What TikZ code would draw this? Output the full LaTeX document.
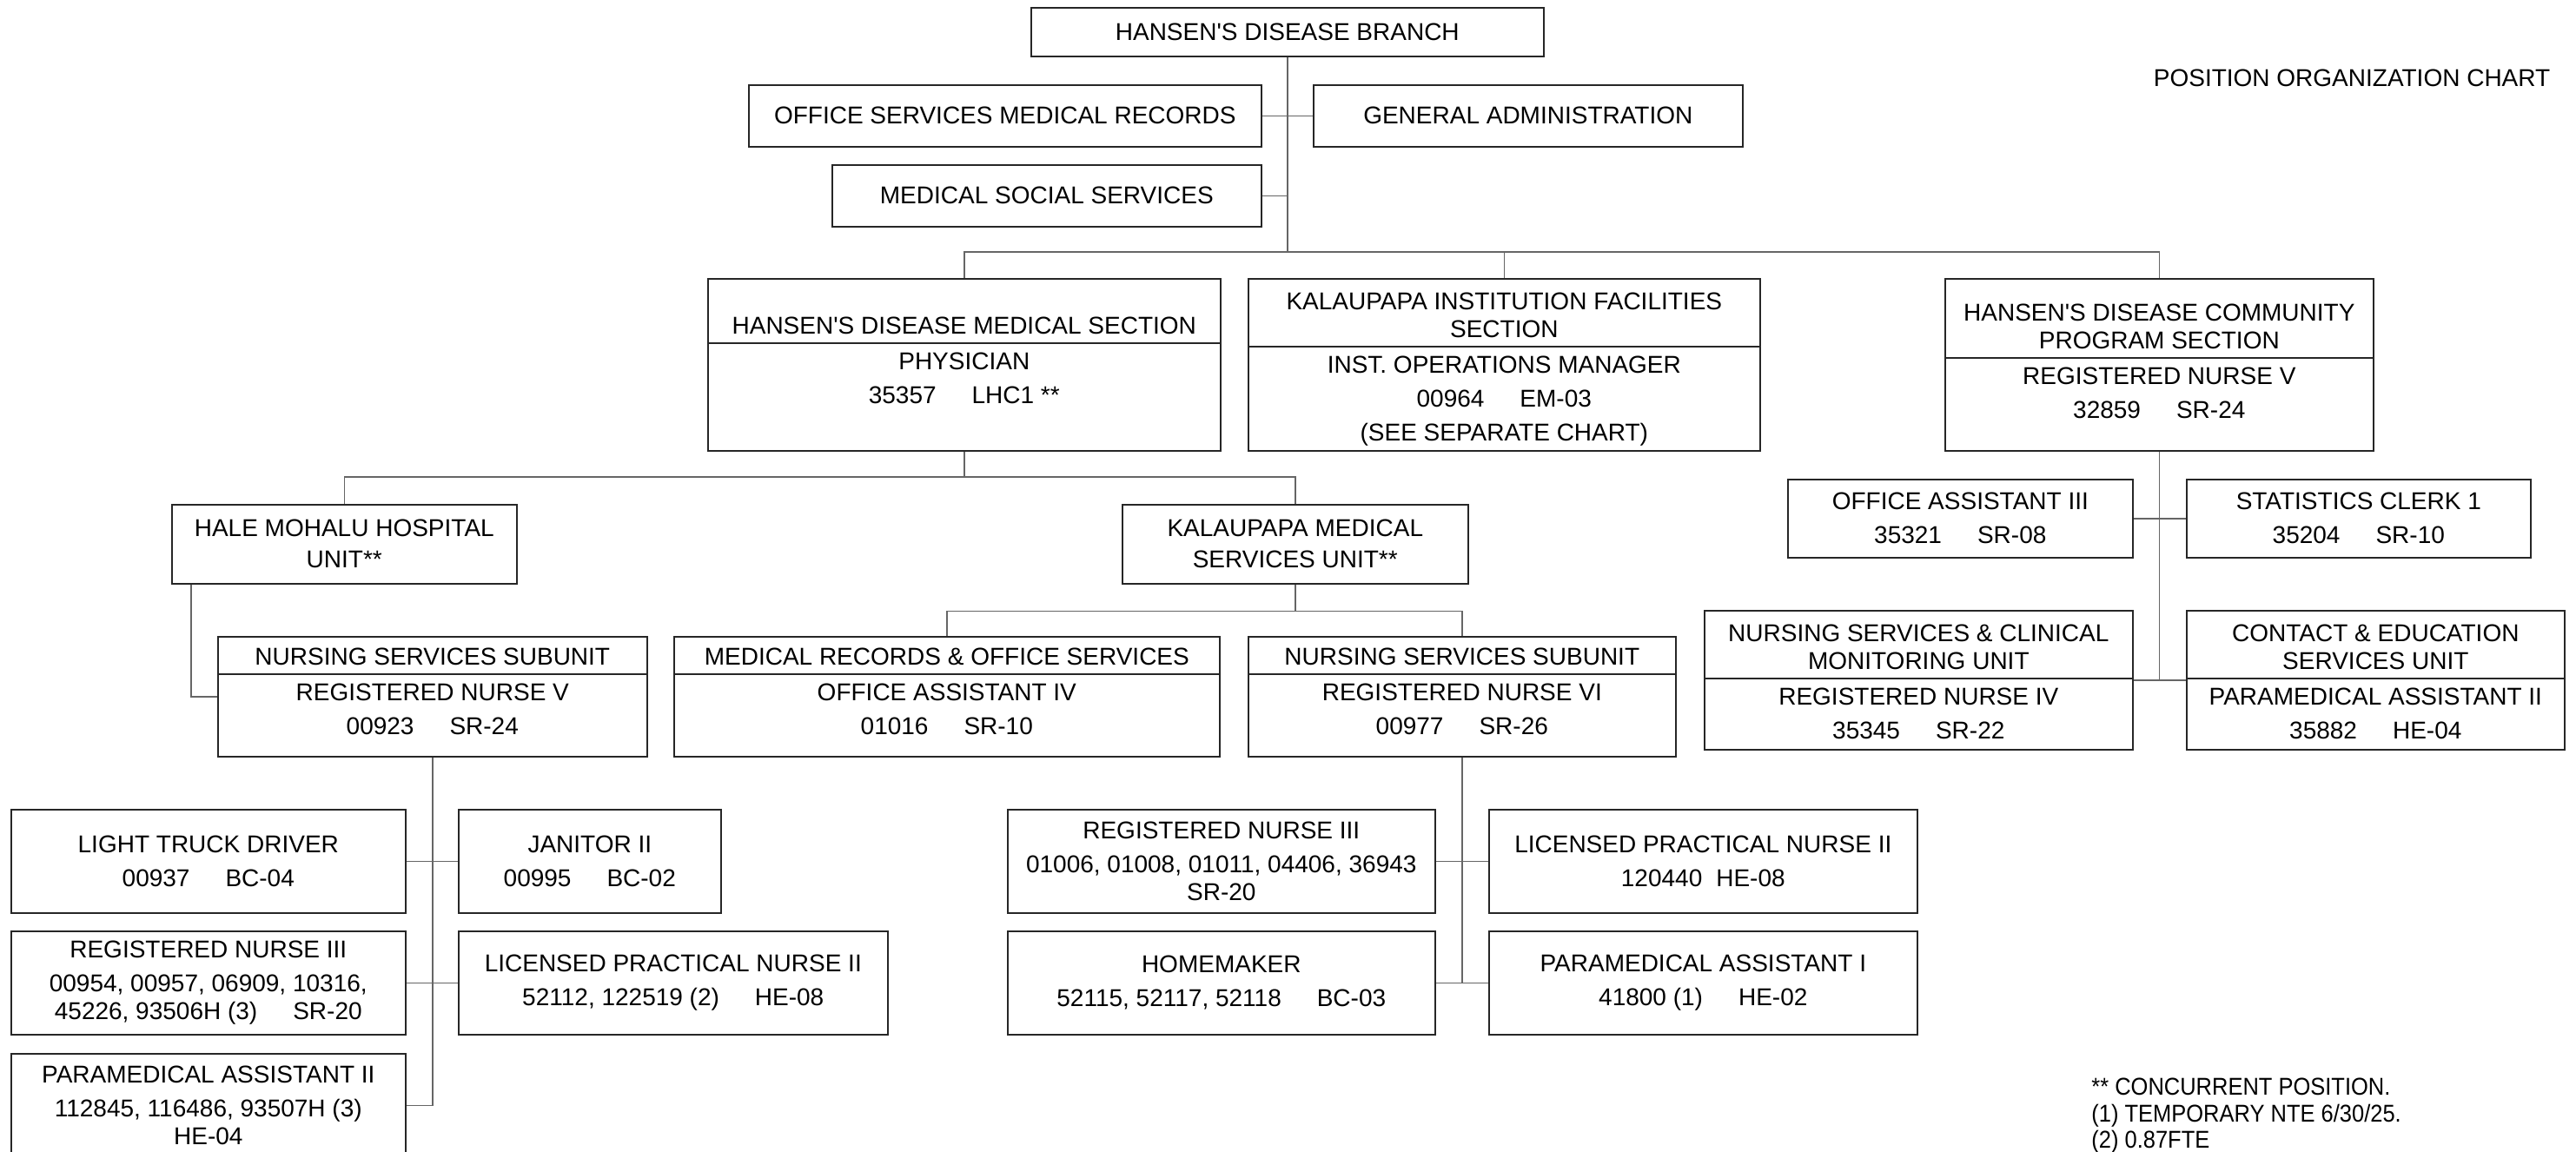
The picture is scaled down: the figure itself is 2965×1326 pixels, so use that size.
\documentclass[tikz,border=0pt]{standalone}
\usepackage{fontspec}
\setmainfont{Liberation Sans}
\usepackage{graphicx}
\usetikzlibrary{positioning,calc}

\newcommand{\posgap}{\hspace{20.5pt}}

\tikzset{
  box/.style={draw=black!85, line width=0.8pt, anchor=north west, inner sep=0pt,
              align=center, font=\fontsize{14pt}{19.5pt}\selectfont},
  hdr/.style={inner xsep=0pt, inner ysep=5pt, align=center,
              font=\fontsize{14pt}{16pt}\selectfont},
  bdy/.style={inner xsep=0pt, inner ysep=5.5pt, align=center,
              font=\fontsize{14pt}{19.5pt}\selectfont},
  link/.style={draw=black!60, line width=0.7pt},
  divider/.style={draw=black!85, line width=0.8pt}
}

\begin{document}
\begin{tikzpicture}[x=0.5pt,y=-0.5pt]
  \path[use as bounding box, fill=white] (0,0) rectangle (2965,1326);

  \node[box, minimum width=295pt, minimum height=28pt] (branch) at (1186,8) {HANSEN\textquotesingle S DISEASE BRANCH};
  \node[box, minimum width=295pt, minimum height=35.5pt] (offrec) at (861,97) {OFFICE SERVICES MEDICAL RECORDS};
  \node[box, minimum width=247pt, minimum height=35.5pt] (genadm) at (1511,97) {GENERAL ADMINISTRATION};
  \node[box, minimum width=247pt, minimum height=35.5pt] (medsoc) at (957,189) {MEDICAL SOCIAL SERVICES};

  \node[box, minimum width=295pt, minimum height=99pt] (medsec) at (814,320) {};
  \coordinate (medsecD) at ($(medsec.north)+(0,75)$);
  \node[hdr, above=0pt of medsecD] (medsecH) {HANSEN\textquotesingle S DISEASE MEDICAL SECTION};
  \node[bdy, below=0pt of medsecD] (medsecB) {PHYSICIAN\\35357\posgap LHC1 **};

  \node[box, minimum width=294.5pt, minimum height=99pt] (instsec) at (1436,320) {};
  \coordinate (instsecD) at ($(instsec.north)+(0,79)$);
  \node[hdr, above=0pt of instsecD] (instsecH) {KALAUPAPA INSTITUTION FACILITIES\\SECTION};
  \node[bdy, below=0pt of instsecD] (instsecB) {INST. OPERATIONS MANAGER\\00964\posgap EM-03\\(SEE SEPARATE CHART)};

  \node[box, minimum width=246.5pt, minimum height=99pt] (commsec) at (2238,320) {};
  \coordinate (commsecD) at ($(commsec.north)+(0,92)$);
  \node[hdr, above=0pt of commsecD] (commsecH) {HANSEN\textquotesingle S DISEASE COMMUNITY\\PROGRAM SECTION};
  \node[bdy, below=0pt of commsecD] (commsecB) {REGISTERED NURSE V\\32859\posgap SR-24};

  \node[box, minimum width=198.5pt, minimum height=45.5pt] (hale) at (197,580) {HALE MOHALU HOSPITAL\\[-1.5pt]UNIT**};
  \node[box, minimum width=199pt, minimum height=45.5pt] (kmsu) at (1291,580) {KALAUPAPA MEDICAL\\[-1.5pt]SERVICES UNIT**};

  \node[box, minimum width=247pt, minimum height=69pt] (nssL) at (250,732) {};
  \coordinate (nssLD) at ($(nssL.north)+(0,44)$);
  \node[hdr, above=0pt of nssLD] (nssLH) {NURSING SERVICES SUBUNIT};
  \node[bdy, below=0pt of nssLD] (nssLB) {REGISTERED NURSE V\\00923\posgap SR-24};

  \node[box, minimum width=314pt, minimum height=69pt] (mros) at (775,732) {};
  \coordinate (mrosD) at ($(mros.north)+(0,44)$);
  \node[hdr, above=0pt of mrosD] (mrosH) {MEDICAL RECORDS \& OFFICE SERVICES};
  \node[bdy, below=0pt of mrosD] (mrosB) {OFFICE ASSISTANT IV\\01016\posgap SR-10};

  \node[box, minimum width=246pt, minimum height=69pt] (nssR) at (1436,732) {};
  \coordinate (nssRD) at ($(nssR.north)+(0,44)$);
  \node[hdr, above=0pt of nssRD] (nssRH) {NURSING SERVICES SUBUNIT};
  \node[bdy, below=0pt of nssRD] (nssRB) {REGISTERED NURSE VI\\00977\posgap SR-26};

  \node[box, minimum width=198.5pt, minimum height=45pt] (oa3) at (2057,551) {OFFICE ASSISTANT III\\35321\posgap SR-08};
  \node[box, minimum width=198pt, minimum height=45pt] (stat) at (2516,551) {STATISTICS CLERK 1\\35204\posgap SR-10};

  \node[box, minimum width=246.5pt, minimum height=80pt] (nscm) at (1961,702) {};
  \coordinate (nscmD) at ($(nscm.north)+(0,79)$);
  \node[hdr, above=0pt of nscmD] (nscmH) {NURSING SERVICES \& CLINICAL\\MONITORING UNIT};
  \node[bdy, below=0pt of nscmD] (nscmB) {REGISTERED NURSE IV\\35345\posgap SR-22};

  \node[box, minimum width=217.5pt, minimum height=80pt] (ceu) at (2516,702) {};
  \coordinate (ceuD) at ($(ceu.north)+(0,79)$);
  \node[hdr, above=0pt of ceuD] (ceuH) {CONTACT \& EDUCATION\\SERVICES UNIT};
  \node[bdy, below=0pt of ceuD] (ceuB) {PARAMEDICAL ASSISTANT II\\35882\posgap HE-04};

  \node[box, minimum width=227pt, minimum height=59.5pt] (ltd) at (12,931) {LIGHT TRUCK DRIVER\\00937\posgap BC-04};
  \node[box, minimum width=151pt, minimum height=59.5pt] (jan) at (527,931) {JANITOR II\\00995\posgap BC-02};
  \node[box, minimum width=227pt, minimum height=59.5pt] (rn3L) at (12,1071) {REGISTERED NURSE III\\00954, 00957, 06909, 10316,\\[-3.5pt]45226, 93506H (3)\posgap SR-20};
  \node[box, minimum width=247pt, minimum height=59.5pt] (lpnL) at (527,1071) {LICENSED PRACTICAL NURSE II\\52112, 122519 (2)\posgap HE-08};
  \node[box, minimum width=227pt, minimum height=59.5pt] (pa2L) at (12,1212) {PARAMEDICAL ASSISTANT II\\112845, 116486, 93507H (3)\\[-3.5pt]HE-04};

  \node[box, minimum width=246pt, minimum height=59.5pt] (rn3R) at (1159,931) {REGISTERED NURSE III\\01006, 01008, 01011, 04406, 36943\\[-3.5pt]SR-20};
  \node[box, minimum width=246.5pt, minimum height=59.5pt] (lpnR) at (1713,931) {LICENSED PRACTICAL NURSE II\\120440\hspace{8pt}HE-08};
  \node[box, minimum width=246pt, minimum height=59.5pt] (home) at (1159,1071) {HOMEMAKER\\52115, 52117, 52118\posgap BC-03};
  \node[box, minimum width=246.5pt, minimum height=59.5pt] (pa1) at (1713,1071) {PARAMEDICAL ASSISTANT I\\41800 (1)\posgap HE-02};

  \node[inner sep=0pt, font=\fontsize{14pt}{16pt}\selectfont] (title) at (2707,90) {POSITION ORGANIZATION CHART};
  \node[anchor=north west, inner sep=0pt, align=left, font=\fontsize{14pt}{15.25pt}\selectfont] (notes) at (2407,1241)
    {\scalebox{0.91}[1]{** CONCURRENT POSITION.}\\\scalebox{0.91}[1]{(1) TEMPORARY NTE 6/30/25.}\\\scalebox{0.91}[1]{(2) 0.87FTE}};

  \foreach \b in {medsec,instsec,commsec,nssL,mros,nssR,nscm,ceu}
    \draw[divider] (\b D -| \b.west) -- (\b D -| \b.east);

  \coordinate (bus1) at ($(medsec.north)+(0,-30)$);
  \coordinate (bus2) at ($(hale.north)+(0,-31)$);
  \coordinate (bus3) at ($(kmsu.south)+(0,31)$);

  \draw[link] (branch.south) -- (branch.south |- bus1);
  \draw[link] (offrec.east) -- (genadm.west);
  \draw[link] (medsoc.east) -- (medsoc.east -| branch.south);
  \draw[link] (medsec.north) -- (bus1) -| (commsec.north);
  \draw[link] (instsec.north) -- (instsec.north |- bus1);

  \draw[link] (medsec.south) -- (medsec.south |- bus2);
  \draw[link] (hale.north) -- (bus2) -| (kmsu.north);
  \draw[link] ($(hale.south west)+(23,0)$) |- (nssL.west);
  \draw[link] (kmsu.south) -- (bus3);
  \draw[link] (mros.north) |- (bus3) -| (nssR.north);

  \draw[link] (nssL.south) |- (pa2L.east);
  \draw[link] (ltd.east) -- (jan.west);
  \draw[link] (rn3L.east) -- (lpnL.west);

  \draw[link] (nssR.south) -- (nssR.south |- home.east);
  \draw[link] (rn3R.east) -- (lpnR.west);
  \draw[link] (home.east) -- (pa1.west);

  \draw[link] (commsec.south) -- (commsec.south |- nscm.east);
  \draw[link] (oa3.east) -- (stat.west);
  \draw[link] (nscm.east) -- (ceu.west);
\end{tikzpicture}
\end{document}
